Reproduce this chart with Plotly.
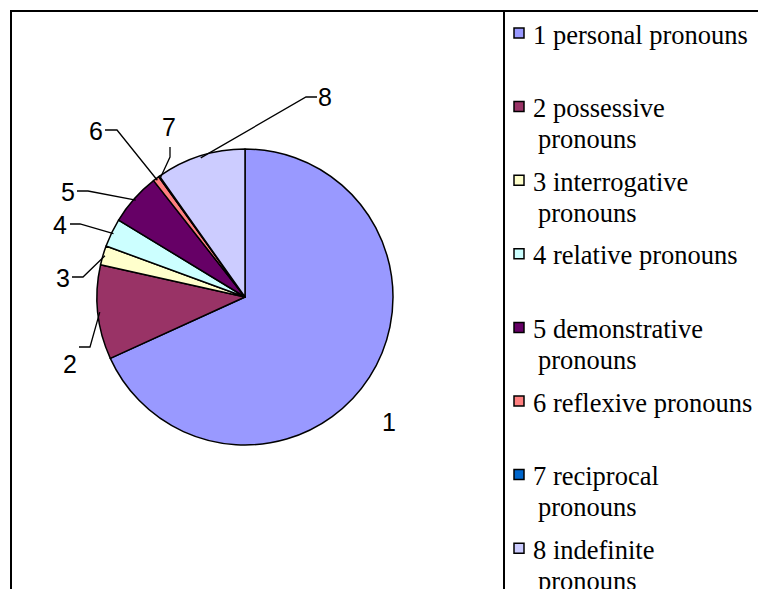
import math
import textwrap
import plotly.graph_objects as go

W, H = 758, 589

# Pronoun classes and their shares (%)
numbers = ["1", "2", "3", "4", "5", "6", "7", "8"]
categories = [
    "personal pronouns",
    "possessive pronouns",
    "interrogative pronouns",
    "relative pronouns",
    "demonstrative pronouns",
    "reflexive pronouns",
    "reciprocal pronouns",
    "indefinite pronouns",
]
shares = [68.2, 10.3, 2.1, 3.1, 5.7, 0.7, 0.1, 9.8]
colors = ["#9999FF", "#993366", "#FFFFCC", "#CCFFFF",
          "#660066", "#FF8080", "#0066CC", "#CCCCFF"]

# Pie geometry in pixels
CX, CY, R = 245, 297, 148

# Data-label placement (pixel centre of each number) and leader elbow points
label_pos = [(389, 422), (70, 364), (63, 278), (60, 225),
             (68, 192), (96, 131), (169, 127), (325, 97)]
leader_elbows = [None,
                 [(79, 347), (90, 347)],
                 [(72, 277), (83, 277)],
                 [(70, 224), (80, 224)],
                 [(77, 191), (88, 191)],
                 [(105, 130), (117, 130)],
                 [(170, 147), (170, 157)],
                 [(317, 97), (306, 97)]]


def px(x):
    return x / W


def py(y):
    return 1 - y / H


fig = go.Figure()

fig.add_trace(go.Pie(
    labels=[f"{n} {c}" for n, c in zip(numbers, categories)],
    values=shares,
    sort=False,
    direction="clockwise",
    rotation=0,
    marker=dict(colors=colors, line=dict(color="black", width=1.5)),
    textinfo="none",
    hoverinfo="label+percent",
    showlegend=False,
    domain=dict(x=[px(CX - R), px(CX + R)], y=[py(CY + R), py(CY - R)]),
))

shapes = []
annotations = []

# Chart frame and legend box edges
frame = dict(type="line", xref="paper", yref="paper",
             line=dict(color="black", width=2))
shapes.append(dict(frame, x0=px(10), y0=py(11), x1=px(W + 5), y1=py(11)))
shapes.append(dict(frame, x0=px(11), y0=py(10), x1=px(11), y1=py(H + 5)))
shapes.append(dict(frame, x0=px(504), y0=py(10), x1=px(504), y1=py(H + 5)))

# Data labels with leader lines pointing at each slice's mid-angle
total = sum(shares)
cum = 0.0
for i, v in enumerate(shares):
    mid = 2 * math.pi * (cum + v / 2) / total
    cum += v
    ax = CX + (R - 2) * math.sin(mid)
    ay = CY - (R - 2) * math.cos(mid)
    lx, ly = label_pos[i]
    annotations.append(dict(
        x=px(lx), y=py(ly), xref="paper", yref="paper",
        text=numbers[i], showarrow=False, xanchor="center", yanchor="middle",
        font=dict(family="Liberation Sans", size=25, color="black"),
    ))
    if leader_elbows[i]:
        (x0, y0), (x1, y1) = leader_elbows[i]
        path = (f"M {px(x0)},{py(y0)} L {px(x1)},{py(y1)} "
                f"L {px(ax)},{py(ay)}")
        shapes.append(dict(type="path", xref="paper", yref="paper", path=path,
                           line=dict(color="black", width=1.3)))

# Legend: colour keys and wrapped entry text
first_baseline, entry_step, line_step = 43, 73.6, 31
font_size = 26.5
for i, (n, c) in enumerate(zip(numbers, categories)):
    base = first_baseline + i * entry_step
    shapes.append(dict(type="rect", xref="paper", yref="paper",
                       x0=px(514), x1=px(524), y0=py(base - 15), y1=py(base - 5),
                       fillcolor=colors[i], line=dict(color="black", width=1.5)))
    lines = textwrap.wrap(f"{n} {c}", width=20)
    for k, line in enumerate(lines):
        b = base + k * line_step
        x_text = 531 if k == 0 else 536
        annotations.append(dict(
            x=px(x_text), y=py(b - 0.32 * font_size), xref="paper", yref="paper",
            text=line, showarrow=False, xanchor="left", yanchor="middle",
            font=dict(family="Liberation Serif", size=font_size, color="black"),
        ))

fig.update_layout(
    width=W, height=H,
    margin=dict(l=0, r=0, t=0, b=0),
    paper_bgcolor="white",
    plot_bgcolor="white",
    shapes=shapes,
    annotations=annotations,
)

fig.write_html("out.html")
